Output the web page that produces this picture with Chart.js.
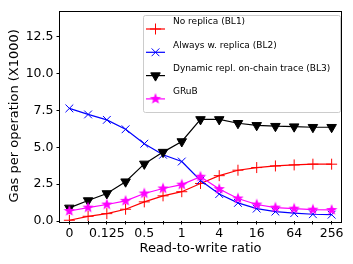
<!DOCTYPE html>
<html>
<head>
<meta charset="utf-8">
<script src="https://cdn.jsdelivr.net/npm/chart.js@4.4.1/dist/chart.umd.min.js"></script>
<style>
html, body { margin: 0; padding: 0; background: #fff; }
#wrap { width: 353px; height: 264px; }
</style>
</head>
<body>
<div id="wrap"><canvas id="chart"></canvas></div>
<script>
// read-to-write ratios (only every other one is labelled)
const ratios = ['0', '0.0625', '0.125', '0.25', '0.5', '0.75', '1', '2', '4', '8', '16', '32', '64', '128', '256'];
const tickLabels = ['0', '0.125', '0.5', '1', '4', '16', '64', '256'];
const yTicks = [0, 2.5, 5, 7.5, 10, 12.5];

// gas per operation (x1000)
const noReplica = [0.05, 0.32, 0.5, 0.8, 1.3, 1.71, 1.99, 2.55, 3.08, 3.45, 3.63, 3.74, 3.81, 3.86, 3.86];
const alwaysReplica = [7.65, 7.24, 6.87, 6.23, 5.25, 4.5, 4.04, 2.75, 1.83, 1.23, 0.84, 0.64, 0.53, 0.46, 0.43];
const dynamicRepl = [0.89, 1.39, 1.87, 2.67, 3.88, 4.68, 5.4, 6.9, 6.9, 6.64, 6.5, 6.44, 6.41, 6.37, 6.37];
const grub = [0.68, 0.91, 1.12, 1.37, 1.87, 2.21, 2.47, 3.01, 2.17, 1.53, 1.12, 0.91, 0.84, 0.77, 0.75];

const FONT = 'DejaVu Sans';

// filled five point star like matplotlib '*'
function makeStar(color, r) {
    const c = document.createElement('canvas');
    const s = Math.ceil(r * 2 + 2);
    c.width = s; c.height = s;
    const g = c.getContext('2d');
    g.beginPath();
    for (let i = 0; i < 10; i++) {
        const rad = i % 2 === 0 ? r : r * 0.42;
        const a = -Math.PI / 2 + i * Math.PI / 5;
        const x = s / 2 + rad * Math.cos(a);
        const y = s / 2 + rad * Math.sin(a);
        if (i === 0) g.moveTo(x, y); else g.lineTo(x, y);
    }
    g.closePath();
    g.fillStyle = color;
    g.fill();
    return c;
}
const starImg = makeStar('#ff00ff', 6);

const frame = {
    id: 'frame',
    afterDatasetsDraw(chart) {
        const { ctx, chartArea: a } = chart;
        ctx.save();
        ctx.strokeStyle = '#000';
        ctx.lineWidth = 1;
        ctx.strokeRect(Math.round(a.left) - 0.5, Math.round(a.top) + 0.5,
            Math.round(a.right - a.left) + 1, Math.round(a.bottom - a.top));
        ctx.restore();
    }
};

const legendBox = {
    id: 'legendBox',
    afterDraw(chart) {
        const ctx = chart.ctx;
        const x0 = 143, y0 = 15, x1 = 340, y1 = 112;
        ctx.save();
        ctx.fillStyle = 'rgba(255,255,255,0.8)';
        ctx.strokeStyle = '#cccccc';
        ctx.lineWidth = 1;
        ctx.beginPath();
        ctx.roundRect(x0 + 0.5, y0 + 0.5, x1 - x0, y1 - y0, 2);
        ctx.fill();
        ctx.stroke();
        chart.data.datasets.forEach((ds, i) => {
            const y = 29 + i * 23.3;
            ctx.strokeStyle = ds.borderColor;
            ctx.lineWidth = ds.borderWidth;
            ctx.beginPath();
            ctx.moveTo(146, y);
            ctx.lineTo(165, y);
            ctx.stroke();
            ctx.fillStyle = ds.pointBackgroundColor;
            ctx.strokeStyle = ds.pointBorderColor;
            ctx.lineWidth = ds.pointBorderWidth;
            Chart.helpers.drawPoint(ctx, {
                pointStyle: ds.pointStyle,
                radius: ds.pointRadius,
                rotation: ds.pointRotation || 0,
                borderWidth: ds.pointBorderWidth
            }, 155.5, y);
            ctx.fillStyle = '#000';
            ctx.font = '9px "' + FONT + '"';
            ctx.textBaseline = 'middle';
            ctx.textAlign = 'left';
            ctx.fillText(ds.label, 173, y - 7);
        });
        ctx.restore();
    }
};

function series(label, data, color, style, extra) {
    return Object.assign({
        label: label,
        data: data,
        borderColor: color,
        backgroundColor: color,
        borderWidth: 1.2,
        pointStyle: style,
        pointRadius: 5.5,
        pointBorderColor: color,
        pointBackgroundColor: color,
        pointBorderWidth: 1,
        tension: 0
    }, extra || {});
}

new Chart(document.getElementById('chart'), {
    type: 'line',
    data: {
        labels: ratios,
        datasets: [
            series('No replica (BL1)', noReplica, '#ff0000', 'cross', { order: 4 }),
            series('Always w. replica (BL2)', alwaysReplica, '#0000ff', 'crossRot', { order: 3 }),
            series('Dynamic repl. on-chain trace (BL3)', dynamicRepl, '#000000', 'triangle',
                { pointRotation: 180, pointRadius: 5.5, order: 2 }),
            series('GRuB', grub, '#ff00ff', starImg, { order: 1, pointRadius: 6 })
        ]
    },
    options: {
        responsive: true,
        maintainAspectRatio: false,
        animation: false,
        events: [],
        layout: { padding: { top: 10, right: 12, left: 0, bottom: 0 } },
        plugins: {
            legend: { display: false },
            tooltip: { enabled: false }
        },
        scales: {
            x: {
                type: 'category',
                offset: true,
                afterFit(scale) { scale.height = 43; },
                grid: {
                    display: true,
                    drawOnChartArea: false,
                    drawTicks: true,
                    tickLength: 3.5,
                    color: '#000',
                    offset: false
                },
                border: { display: false },
                ticks: {
                    autoSkip: false,
                    maxRotation: 0,
                    padding: 2,
                    color: '#000',
                    font: { family: FONT, size: 12.5 },
                    callback(value) {
                        const lab = ratios[value];
                        return tickLabels.includes(lab) ? lab : '';
                    }
                },
                title: {
                    display: true,
                    text: 'Read-to-write ratio',
                    color: '#000',
                    font: { family: FONT, size: 13 },
                    padding: { top: 0, bottom: 8 }
                }
            },
            y: {
                min: 0,
                max: 14.3,
                afterFit(scale) { scale.width = 60; },
                afterBuildTicks(scale) {
                    scale.ticks = yTicks.map(v => ({ value: v }));
                },
                grid: {
                    display: true,
                    drawOnChartArea: false,
                    drawTicks: true,
                    tickLength: 3.5,
                    color: '#000'
                },
                border: { display: false },
                ticks: {
                    padding: 3,
                    color: '#000',
                    font: { family: FONT, size: 12.5 },
                    callback(value) { return Number(value).toFixed(1); }
                },
                title: {
                    display: true,
                    text: 'Gas per operation (X1000)',
                    color: '#000',
                    font: { family: FONT, size: 13 },
                    padding: { top: 7, bottom: 0 }
                }
            }
        }
    },
    plugins: [frame, legendBox]
});
</script>
</body>
</html>
